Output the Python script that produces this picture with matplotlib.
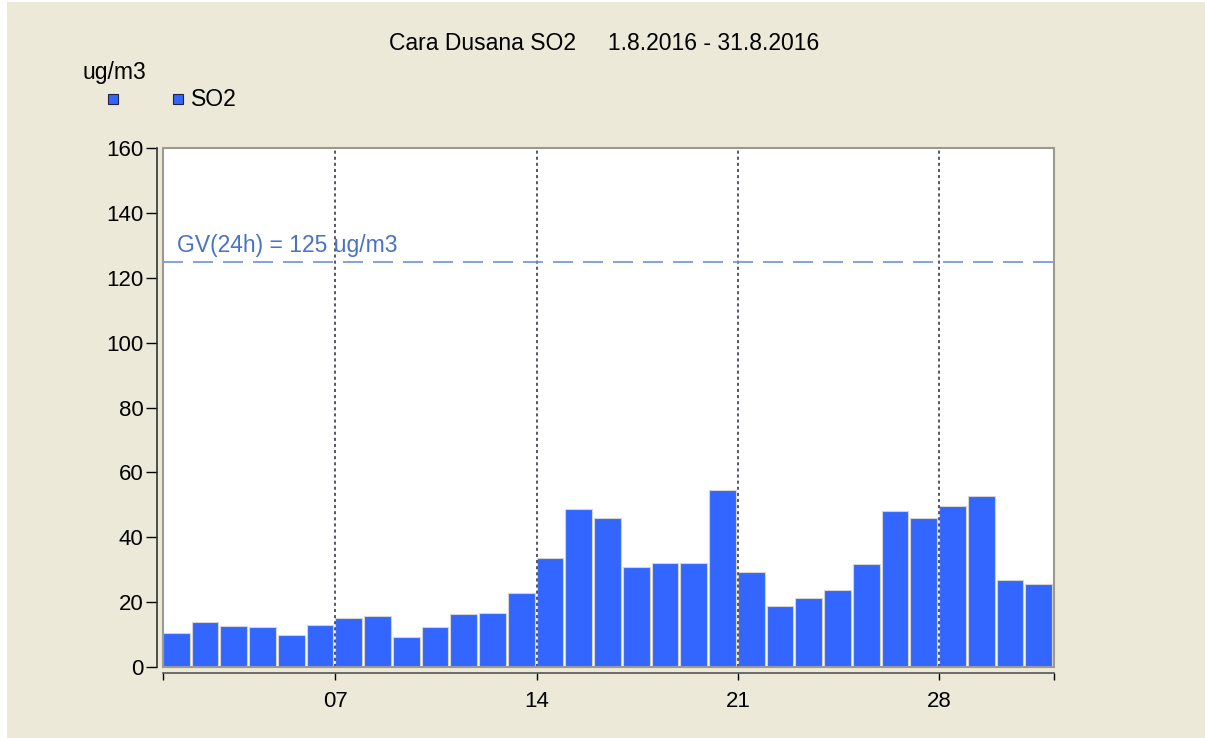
import matplotlib
matplotlib.use("Agg")
import matplotlib.pyplot as plt
from matplotlib.lines import Line2D
from matplotlib.patches import Rectangle

# daily SO2 means, August 2016 (ug/m3)
days = list(range(1, 32))
so2 = [10.6, 13.9, 12.6, 12.2, 9.8, 13.1, 15.1, 15.8, 9.1, 12.2,
       16.3, 16.8, 22.8, 33.7, 48.7, 45.8, 30.9, 32.1, 32.1, 54.7,
       29.3, 18.7, 21.2, 23.6, 31.7, 48.2, 45.8, 49.5, 52.8, 26.9, 25.6]
week_marks = [7, 14, 21, 28]
x_ticks = [1, 7, 14, 21, 28, 32]
x_labels = ["", "07", "14", "21", "28", ""]
y_ticks = [0, 20, 40, 60, 80, 100, 120, 140, 160]
limit_value = 125
limit_label = "GV(24h) = 125 ug/m3"
title = "Cara Dusana SO2     1.8.2016 - 31.8.2016"

BG = "#ECE9D8"
BAR = "#3366FF"
FS = 16.5

plt.rcParams["font.family"] = ["Liberation Sans", "DejaVu Sans"]

W, H = 1205, 738
fig = plt.figure(figsize=(W / 100, H / 100), dpi=100, facecolor="white")
fig.patches.append(Rectangle((7 / W, 0), 1, 1 - 2 / H, transform=fig.transFigure,
                             facecolor=BG, edgecolor="none", zorder=-10))

ax = fig.add_axes([163 / W, (H - 667) / H, 891 / W, 519 / H])
ax.set_facecolor("white")

ax.bar(days, so2, width=0.93, align="edge", color=BAR, edgecolor="#d4d4d4",
       linewidth=0.8, zorder=2)

for d in week_marks:
    ax.axvline(d, color="#2a2a3a", linestyle=(0, (2, 2)), linewidth=1.1, zorder=3)

ax.axhline(limit_value, color="#6b93d6", linestyle=(0, (12, 6)), linewidth=1.2, zorder=3)
ax.text(1.5, limit_value + 1.3, limit_label, color="#4a72c6", fontsize=FS,
        ha="left", va="bottom", zorder=4)

ax.set_xlim(1, 32)
ax.set_ylim(0, 160)
ax.set_xticks(x_ticks)
ax.set_xticklabels(x_labels)
ax.set_yticks(y_ticks)
ax.tick_params(axis="y", direction="out", length=8, width=1, pad=2, labelsize=16, colors="black")
ax.tick_params(axis="x", direction="out", length=5, width=1, pad=8, labelsize=16, colors="black")

for side in ["top", "right"]:
    ax.spines[side].set_visible(False)
ax.spines["left"].set_position(("outward", 4))
ax.spines["bottom"].set_position(("outward", 4))
ax.spines["left"].set_color("#333333")
ax.spines["bottom"].set_color("#555555")
ax.spines["left"].set_linewidth(1.2)
ax.spines["bottom"].set_linewidth(1.2)

# grey plot frame
ax.add_patch(Rectangle((0, 0), 1, 1, transform=ax.transAxes, fill=False,
                       edgecolor="#9a9a92", linewidth=1.5, clip_on=False, zorder=5))

fig.text(604 / W, 1 - 44 / H, title, ha="center", va="center", fontsize=FS)
fig.text(82 / W, 1 - 73 / H, "ug/m3", ha="left", va="center", fontsize=FS)

for px in [113, 178]:
    fig.add_artist(Line2D([px / W], [1 - 99 / H], marker="s", markersize=7,
                          markerfacecolor=BAR, markeredgecolor="#222244",
                          markeredgewidth=0.8, linestyle="none",
                          transform=fig.transFigure))
fig.text(191 / W, 1 - 99 / H, "SO2", ha="left", va="center", fontsize=FS)

fig.savefig("out.png", dpi=100, facecolor=fig.get_facecolor())
